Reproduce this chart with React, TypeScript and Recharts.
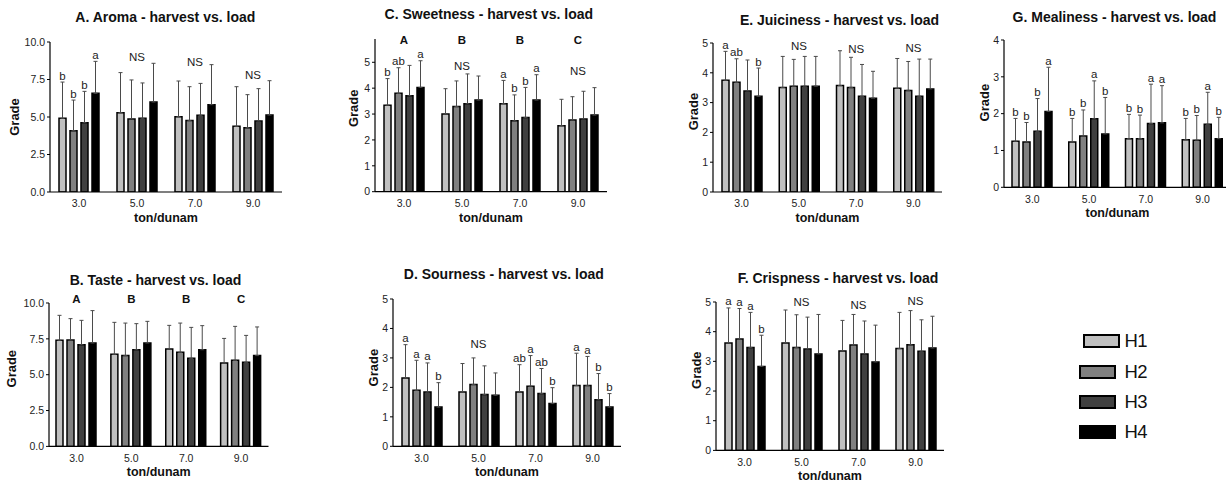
import { Bar, BarChart, ErrorBar, Label, LabelList, ReferenceDot, XAxis, YAxis } from 'recharts';

const loads = ['3.0', '5.0', '7.0', '9.0'];
const harvests = ['H1', 'H2', 'H3', 'H4'];
const fills = ['#c0c0c0', '#808080', '#404040', '#000000'];
const blank = ['', '', '', ''];

// rows = load (3.0, 5.0, 7.0, 9.0), columns = H1..H4
const aromaMean = [[4.91, 4.09, 4.62, 6.58], [5.29, 4.87, 4.91, 6.0], [5.02, 4.76, 5.11, 5.82], [4.38, 4.29, 4.73, 5.13]];
const aromaSd = [[2.42, 2.04, 2.09, 2.13], [2.67, 2.6, 2.36, 2.58], [2.38, 2.26, 2.13, 2.67], [2.64, 2.2, 2.16, 2.29]];
const aromaLetters = [['b', 'b', 'b', 'a'], blank, blank, blank];
const aromaNotes = ['', 'NS', 'NS', 'NS'];
const aromaNoteLevel = [0, 9.0, 8.7, 7.8];

const tasteMean = [[7.4, 7.42, 7.09, 7.21], [6.42, 6.33, 6.74, 7.21], [6.79, 6.56, 6.14, 6.74], [5.81, 6.0, 5.86, 6.33]];
const tasteSd = [[1.74, 1.49, 1.7, 2.26], [2.23, 2.27, 1.82, 1.51], [1.65, 2.04, 2.16, 1.68], [1.72, 2.37, 1.88, 2.0]];
const tasteGroups = ['A', 'B', 'B', 'C'];

const sweetMean = [[3.34, 3.8, 3.71, 4.03], [3.0, 3.29, 3.4, 3.54], [3.4, 2.74, 2.87, 3.54], [2.55, 2.77, 2.81, 2.96]];
const sweetSd = [[1.03, 0.99, 1.17, 1.03], [0.98, 0.99, 1.15, 0.93], [0.9, 1.0, 1.16, 0.98], [1.02, 0.9, 1.07, 1.06]];
const sweetLetters = [['b', 'ab', '', 'a'], blank, ['a', 'b', 'b', 'a'], blank];
const sweetNotes = ['', 'NS', '', 'NS'];
const sweetNoteLevel = [0, 4.87, 0, 4.67];
const sweetGroups = ['A', 'B', 'B', 'C'];

const sourMean = [[2.32, 1.9, 1.84, 1.33], [1.84, 2.1, 1.76, 1.73], [1.84, 2.04, 1.79, 1.45], [2.06, 2.06, 1.58, 1.33]];
const sourSd = [[1.13, 1.02, 0.99, 0.83], [0.97, 0.9, 0.97, 0.76], [0.93, 1.04, 0.85, 0.54], [1.1, 0.99, 0.89, 0.46]];
const sourLetters = [['a', 'a', 'a', 'b'], blank, ['ab', 'a', 'ab', 'b'], ['a', 'a', 'b', 'b']];
const sourNotes = ['', 'NS', '', ''];
const sourNoteLevel = [0, 3.48, 0, 0];

const juicyMean = [[3.75, 3.68, 3.39, 3.21], [3.51, 3.55, 3.55, 3.55], [3.57, 3.51, 3.21, 3.15], [3.48, 3.41, 3.21, 3.46]];
const juicySd = [[0.97, 0.79, 1.04, 0.95], [1.04, 0.9, 1.0, 1.0], [1.17, 1.01, 1.07, 0.9], [1.0, 0.97, 1.25, 1.0]];
const juicyLetters = [['a', 'ab', '', 'b'], blank, blank, blank];
const juicyNotes = ['', 'NS', 'NS', 'NS'];
const juicyNoteLevel = [0, 4.89, 4.81, 4.83];

const crispMean = [[3.62, 3.75, 3.47, 2.83], [3.62, 3.47, 3.42, 3.25], [3.35, 3.55, 3.25, 2.98], [3.43, 3.56, 3.34, 3.45]];
const crispSd = [[1.18, 1.03, 1.18, 1.05], [1.11, 1.1, 1.07, 1.33], [1.03, 1.03, 1.11, 1.24], [1.22, 1.15, 1.06, 1.07]];
const crispLetters = [['a', 'a', 'a', 'b'], blank, blank, blank];
const crispNotes = ['', 'NS', 'NS', 'NS'];
const crispNoteLevel = [0, 5.0, 4.91, 5.05];

const mealyMean = [[1.25, 1.23, 1.52, 2.06], [1.23, 1.39, 1.86, 1.45], [1.32, 1.32, 1.73, 1.75], [1.29, 1.28, 1.71, 1.32]];
const mealySd = [[0.62, 0.53, 0.89, 1.2], [0.64, 0.71, 1.03, 0.99], [0.66, 0.64, 1.07, 1.01], [0.58, 0.67, 0.87, 0.58]];
const mealyLetters = [['b', 'b', 'b', 'a'], ['b', 'b', 'a', 'b'], ['b', 'b', 'a', 'a'], ['b', 'b', 'a', 'b']];

const tenTicks = [0, 2.5, 5, 7.5, 10];
const fiveTicks = [0, 1, 2, 3, 4, 5];
const fourTicks = [0, 1, 2, 3, 4];

const FONT = '"Liberation Sans", Arial, Helvetica, sans-serif';

type PanelProps = {
  title: string;
  mean: number[][];
  sd: number[][];
  letters?: string[][];
  notes?: string[];
  noteLevel?: number[];
  groups?: string[];
  groupLevel?: number;
  L: number; R: number; T: number; B: number;
  max: number;
  ticks: number[];
  digits: number;
  titleX: number; titleY: number;
  gradeDx: number; gradeDy: number;
};

function Panel(p: PanelProps) {
  const padL = 50, padT = 30, padR = 4, padB = 40;
  const width = p.R - p.L + padL + padR;
  const height = p.B - p.T + padT + padB;
  const data = loads.map((load, i) => {
    const row: Record<string, any> = { load };
    harvests.forEach((h, j) => {
      row[h] = p.mean[i][j];
      row[h + 'err'] = [0, p.sd[i][j]];
    });
    return row;
  });

  const letterContent = (j: number) => (props: any) => {
    const vb = props.viewBox ?? props;
    const x = Number(props.x ?? vb.x);
    const y = Number(props.y ?? vb.y);
    const w = Number(props.width ?? vb.width);
    const h = Math.abs(Number(props.height ?? vb.height));
    const i = props.index;
    const txt = p.letters?.[i]?.[j];
    if (!txt) return null;
    const top = y - (p.sd[i][j] * h) / p.mean[i][j];
    return (
      <text x={x + w / 2} y={top - 2.5} textAnchor="middle" fontSize={11.5} fill="#222" fontFamily={FONT}>
        {txt}
      </text>
    );
  };

  return (
    <>
      <div
        style={{
          position: 'absolute', left: p.titleX - 150, top: p.titleY - 9, width: 300, lineHeight: '18px',
          textAlign: 'center', fontFamily: FONT, fontWeight: 'bold', fontSize: 14, color: '#111',
        }}
      >
        {p.title}
      </div>
      <div style={{ position: 'absolute', left: p.L - padL, top: p.T - padT }}>
        <BarChart
          width={width}
          height={height}
          data={data}
          margin={{ top: padT, right: padR, bottom: 0, left: 0 }}
          barSize={7}
          barGap={4}
          style={{ overflow: 'visible' }}
        >
          <XAxis
            dataKey="load"
            height={padB}
            tickLine={false}
            axisLine={{ stroke: '#000', strokeWidth: 1.2 }}
            tick={{ fontSize: 10.5, fill: '#222', fontFamily: FONT }}
          >
            <Label
              content={(props: any) => {
                const vb = props.viewBox;
                return (
                  <text x={vb.x + vb.width / 2} y={vb.y + 26} textAnchor="middle" dominantBaseline="central"
                    fontSize={12.5} fontWeight="bold" fill="#111" fontFamily={FONT}>
                    ton/dunam
                  </text>
                );
              }}
            />
          </XAxis>
          <YAxis
            width={padL}
            domain={[0, p.max]}
            allowDataOverflow
            ticks={p.ticks}
            interval={0}
            tickSize={3}
            tickLine={{ stroke: '#000' }}
            axisLine={{ stroke: '#000', strokeWidth: 1.2 }}
            tickFormatter={(v: number) => v.toFixed(p.digits)}
            tick={{ fontSize: 10.5, fill: '#222', fontFamily: FONT }}
          >
            <Label
              content={(props: any) => {
                const vb = props.viewBox;
                const x = vb.x + vb.width - p.gradeDx;
                const y = vb.y + vb.height / 2 + p.gradeDy;
                return (
                  <text x={x} y={y} transform={`rotate(-90 ${x} ${y})`} textAnchor="middle" dominantBaseline="central"
                    fontSize={13} fontWeight="bold" fill="#111" fontFamily={FONT}>
                    Grade
                  </text>
                );
              }}
            />
          </YAxis>
          {harvests.map((h, j) => (
            <Bar key={h} dataKey={h} fill={fills[j]} stroke="#000" strokeWidth={1.5} isAnimationActive={false}>
              <ErrorBar dataKey={h + 'err'} direction="y" width={2} stroke="#4a4a4a" strokeWidth={1} />
              <LabelList dataKey={h} content={letterContent(j)} />
            </Bar>
          ))}
          {(p.notes ?? []).map((n, i) =>
            n ? (
              <ReferenceDot key={'n' + i} x={loads[i]} y={p.noteLevel![i]} r={0} fill="none" stroke="none" ifOverflow="visible"
                label={{ value: n, position: 'center', fontSize: 11.5, fill: '#222', fontFamily: FONT }} />
            ) : null,
          )}
          {(p.groups ?? []).map((g, i) => (
            <ReferenceDot key={'g' + i} x={loads[i]} y={p.groupLevel!} r={0} fill="none" stroke="none" ifOverflow="visible"
              label={{ value: g, position: 'center', fontSize: 11.5, fontWeight: 'bold', fill: '#111', fontFamily: FONT }} />
          ))}
        </BarChart>
      </div>
    </>
  );
}

function Legend() {
  const rows = [
    { x: 1082.7, y: 334.3, w: 37.3 },
    { x: 1079.3, y: 365, w: 36.7 },
    { x: 1079.3, y: 395, w: 36.7 },
    { x: 1079.3, y: 425, w: 36.7 },
  ];
  return (
    <>
      {harvests.map((h, j) => (
        <div key={h}>
          <div
            style={{
              position: 'absolute', left: rows[j].x, top: rows[j].y, width: rows[j].w, height: 14,
              boxSizing: 'border-box', border: '2.5px solid #000', background: fills[j],
            }}
          />
          <div
            style={{
              position: 'absolute', left: 1124.5, top: rows[j].y + 7 - 11, lineHeight: '22px',
              fontFamily: FONT, fontSize: 18.5, color: '#111', letterSpacing: -0.5,
            }}
          >
            {h}
          </div>
        </div>
      ))}
    </>
  );
}

export default function App() {
  return (
    <div style={{ position: 'absolute', left: 0, top: 0, width: 1226, height: 484, background: '#fff', overflow: 'hidden' }}>
      <Panel title="A. Aroma - harvest vs. load" mean={aromaMean} sd={aromaSd} letters={aromaLetters}
        notes={aromaNotes} noteLevel={aromaNoteLevel}
        L={50} R={282} T={42} B={192} max={10} ticks={tenTicks} digits={1}
        titleX={165.3} titleY={16.7} gradeDx={36} gradeDy={0} />
      <Panel title="B. Taste - harvest vs. load" mean={tasteMean} sd={tasteSd}
        groups={tasteGroups} groupLevel={10.3}
        L={48.5} R={268} T={303.3} B={446.7} max={10} ticks={tenTicks} digits={1}
        titleX={155.5} titleY={280} gradeDx={37.5} gradeDy={-6} />
      <Panel title="C. Sweetness - harvest vs. load" mean={sweetMean} sd={sweetSd} letters={sweetLetters}
        notes={sweetNotes} noteLevel={sweetNoteLevel} groups={sweetGroups} groupLevel={5.86}
        L={375} R={607} T={39} B={191.7} max={5.9} ticks={fiveTicks} digits={0}
        titleX={488.8} titleY={14} gradeDx={21.7} gradeDy={-7} />
      <Panel title="D. Sourness - harvest vs. load" mean={sourMean} sd={sourSd} letters={sourLetters}
        notes={sourNotes} noteLevel={sourNoteLevel}
        L={393} R={621} T={298.7} B={446} max={5} ticks={fiveTicks} digits={0}
        titleX={503.8} titleY={274} gradeDx={19} gradeDy={-5} />
      <Panel title="E. Juiciness - harvest vs. load" mean={juicyMean} sd={juicySd} letters={juicyLetters}
        notes={juicyNotes} noteLevel={juicyNoteLevel}
        L={713} R={942} T={43.3} B={192.3} max={5} ticks={fiveTicks} digits={0}
        titleX={839.5} titleY={20} gradeDx={20} gradeDy={-6} />
      <Panel title="F. Crispness - harvest vs. load" mean={crispMean} sd={crispSd} letters={crispLetters}
        notes={crispNotes} noteLevel={crispNoteLevel}
        L={716} R={944} T={302.3} B={450.7} max={5} ticks={fiveTicks} digits={0}
        titleX={838} titleY={278.3} gradeDx={19.3} gradeDy={-6} />
      <Panel title="G. Mealiness - harvest vs. load" mean={mealyMean} sd={mealySd} letters={mealyLetters}
        L={1004} R={1231} T={40} B={187.3} max={4} ticks={fourTicks} digits={0}
        titleX={1114.5} titleY={17.3} gradeDx={19} gradeDy={-11} />
      <Legend />
    </div>
  );
}
